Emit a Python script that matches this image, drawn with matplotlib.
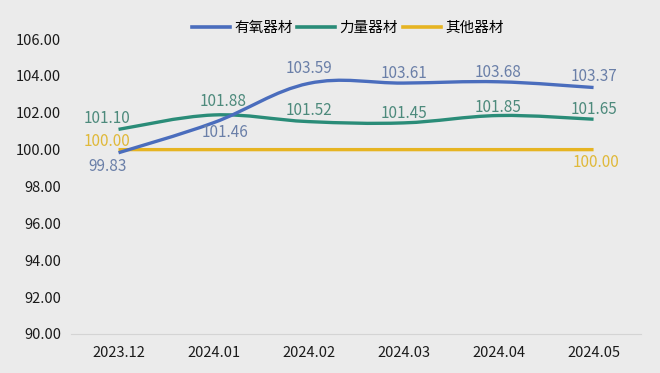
import numpy as np
import matplotlib.pyplot as plt
from matplotlib.path import Path
from matplotlib.patches import PathPatch
from matplotlib.lines import Line2D

plt.rcParams['font.family'] = ['Noto Sans CJK SC', 'DejaVu Sans']

months = ['2023.12', '2024.01', '2024.02', '2024.03', '2024.04', '2024.05']
aerobic = [99.83, 101.46, 103.59, 103.61, 103.68, 103.37]
strength = [101.10, 101.88, 101.52, 101.45, 101.85, 101.65]
other = [100.00, 100.00, 100.00, 100.00, 100.00, 100.00]
names = ['有氧器材', '力量器材', '其他器材']

colors = ['#4a6dbd', '#2a8c78', '#e6b422']
label_colors = ['#6a7fa8', '#4d8a7c', '#e0b93a']
bg = '#ebebeb'


# smooth curve through the points (cubic bezier, catmull-rom style tangents)
def smooth_path(xs, ys, t=0.18):
    xs = np.asarray(xs, float)
    ys = np.asarray(ys, float)
    verts = [(xs[0], ys[0])]
    codes = [Path.MOVETO]
    n = len(xs)
    for i in range(n - 1):
        p0 = i - 1 if i > 0 else i
        p3 = i + 2 if i + 2 < n else i + 1
        c1 = (xs[i] + (xs[i + 1] - xs[p0]) * t, ys[i] + (ys[i + 1] - ys[p0]) * t)
        c2 = (xs[i + 1] - (xs[p3] - xs[i]) * t, ys[i + 1] - (ys[p3] - ys[i]) * t)
        verts += [c1, c2, (xs[i + 1], ys[i + 1])]
        codes += [Path.CURVE4] * 3
    return Path(verts, codes)


fig = plt.figure(figsize=(6.6, 3.73), dpi=100, facecolor=bg)
ax = fig.add_axes([0.1076, 0.1046, 0.8637, 0.7908])
ax.set_facecolor(bg)

x = np.arange(len(months))
for vals, c in zip([other, strength, aerobic], [colors[2], colors[1], colors[0]]):
    ax.add_patch(PathPatch(smooth_path(x, vals), fill=False, edgecolor=c,
                           lw=2.4, capstyle='butt'))

ax.set_xlim(-0.5, 5.5)
ax.set_ylim(90, 106)
ax.set_yticks(np.arange(90, 107, 2))
ax.set_yticklabels([f'{v:.2f}' for v in np.arange(90, 107, 2)])
ax.set_xticks(x)
ax.set_xticklabels(months)
ax.tick_params(axis='both', length=0, labelsize=10.5, colors='#1a1a1a')
ax.tick_params(axis='x', pad=9)
ax.tick_params(axis='y', pad=7)
for s in ['top', 'right', 'left']:
    ax.spines[s].set_visible(False)
ax.spines['bottom'].set_color('#d4d4d4')

fs = 11


def put(i, v, dx, dy, color):
    # dx, dy in points, label centred there
    ax.annotate(f'{v:.2f}', (x[i], v), xytext=(dx, dy), textcoords='offset points',
                ha='center', va='center', color=color, fontsize=fs)


# aerobic labels
a_off = [(-8, -10), (8, -7), (0, 11), (0, 7), (0, 7), (0, 8)]
for i, v in enumerate(aerobic):
    put(i, v, *a_off[i], label_colors[0])
# strength labels
s_off = [(-8, 8), (7, 10), (0, 8), (0, 7), (0, 6), (0, 7)]
for i, v in enumerate(strength):
    put(i, v, *s_off[i], label_colors[1])
# other labels (first and last only)
put(0, other[0], -8, 6, label_colors[2])
put(5, other[-1], 2, -9, label_colors[2])

handles = [Line2D([], [], color=c, lw=2.6) for c in colors]
fig.legend(handles, names, loc='center', bbox_to_anchor=(0.527, 0.925), ncol=3,
           frameon=False, fontsize=10.5, handlelength=2.6, handletextpad=0.3,
           columnspacing=0.3)

fig.savefig('out.png', dpi=100, facecolor=bg)
